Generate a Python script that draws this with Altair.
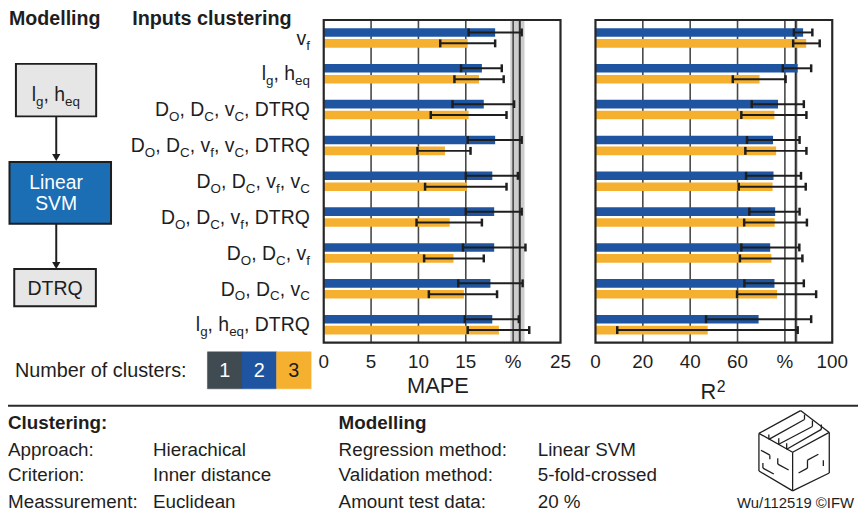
import re
import pandas as pd
import altair as alt

FONT = "Liberation Sans"
INK = "#1e1e1e"
BLUE = "#1f55a0"
ORANGE = "#f6b02f"
SLATE = "#3f4a51"
BOXBLUE = "#1b6db4"
BOXGREY = "#e6e6e6"

# ---------------- data ----------------
CATEGORIES = ["v_f", "l_g, h_eq", "D_O, D_C, v_C, DTRQ", "D_O, D_C, v_f, v_C, DTRQ",
              "D_O, D_C, v_f, v_C", "D_O, D_C, v_f, DTRQ", "D_O, D_C, v_f",
              "D_O, D_C, v_C", "l_g, h_eq, DTRQ"]
CLUSTERS = ["1", "2", "3"]

MAPE_2 = [18.1, 16.7, 16.9, 18.1, 17.8, 18.0, 18.0, 17.6, 17.8]
MAPE_2_LO = [15.3, 14.5, 13.6, 15.2, 15.0, 15.0, 14.7, 14.2, 14.9]
MAPE_2_HI = [20.9, 18.8, 20.1, 20.9, 20.5, 20.9, 21.3, 21.0, 20.6]
MAPE_3 = [15.2, 16.4, 15.3, 12.8, 15.1, 13.3, 13.7, 14.8, 18.5]
MAPE_3_LO = [12.3, 13.8, 11.3, 9.9, 10.7, 9.8, 10.6, 11.1, 15.2]
MAPE_3_HI = [18.1, 19.0, 19.3, 15.5, 19.3, 16.7, 16.9, 18.3, 21.7]

R2_2 = [87.7, 85.4, 77.1, 75.0, 75.2, 75.9, 73.8, 75.6, 68.9]
R2_2_LO = [83.8, 79.1, 66.0, 64.0, 63.6, 65.0, 61.6, 62.9, 46.7]
R2_2_HI = [91.6, 91.1, 88.0, 86.2, 86.8, 86.2, 86.1, 88.0, 91.1]
R2_3 = [89.0, 69.3, 75.6, 76.3, 74.8, 75.7, 74.3, 76.7, 47.4]
R2_3_LO = [83.5, 58.0, 61.6, 63.3, 60.5, 62.8, 61.0, 59.8, 9.2]
R2_3_HI = [94.7, 80.3, 89.1, 89.1, 88.8, 89.3, 87.4, 93.2, 85.4]

# single-model (1 cluster) reference value with its spread
REF_MAPE = 20.7
REF_MAPE_BAND = [19.7, 21.2]
REF_R2 = 84.6
REF_R2_BAND = [84.1, 85.5]

MAPE_TICKS = [0, 5, 10, 15, 20, 25]
MAPE_TICK_LABELS = ["0", "5", "10", "15", "%", "25"]
R2_TICKS = [0, 20, 40, 60, 80, 100]
R2_TICK_LABELS = ["0", "20", "40", "60", "%", "100"]

# ---------------- layout helpers ----------------
def P(v):  # page pixel -> chart pixel (8px body margin)
    return v - 8

MAPE_RANGE = [P(326.7), P(565.7)]
R2_RANGE = [P(601.0), P(840.0)]
Y0, Y1 = P(17.7), P(343.3)

mape_scale = alt.Scale(domain=[0, 25], range=MAPE_RANGE, nice=False, zero=False)
r2_scale = alt.Scale(domain=[0, 100], range=R2_RANGE, nice=False, zero=False)
y_scale = alt.Scale(domain=CATEGORIES, range=[Y0, Y1], paddingInner=0, paddingOuter=0)
yoff_scale = alt.Scale(domain=["2", "3"], paddingInner=0.21, paddingOuter=0.75)
color_scale = alt.Scale(domain=CLUSTERS, range=[SLATE, BLUE, ORANGE])
CLUSTER_COLORS = dict(zip(CLUSTERS, [SLATE, BLUE, ORANGE]))

dummy = alt.Data(values=[{"d": 0}])

WIDTHS = {" ": 278, ",": 278, "D": 722, "T": 611, "R": 722, "Q": 778, "O": 778,
          "C": 722, "v": 500, "l": 222, "h": 556, "e": 556, "q": 556, "f": 278,
          "g": 556, "o": 556, "c": 500}

LAB_FS, SUB_FS = 19.6, 13.5


def tw(s, fs):
    return sum(WIDTHS.get(ch, 556) for ch in s) * fs / 1000.0


def rich_rows(label, anchor, align, fs_main, fs_sub, **extra):
    parts = re.findall(r"_([A-Za-z]+)|([^_]+)", label)
    segs = []
    for sub, main in parts:
        if sub:
            segs.append((sub, True, tw(sub, fs_sub)))
        else:
            segs.append((main, False, tw(main, fs_main)))
    total = sum(w for _, _, w in segs)
    if align == "right":
        x = anchor - total
    elif align == "center":
        x = anchor - total / 2
    else:
        x = anchor
    rows = []
    for t, sub, w in segs:
        r = dict(seg=t, sub=sub, px=x)
        r.update(extra)
        rows.append(r)
        x += w
    return rows


def text(s, x, y, size, weight="normal", align="left", color=INK):
    return alt.Chart(dummy).mark_text(
        text=s, font=FONT, fontSize=size, fontWeight=weight, align=align,
        baseline="alphabetic", color=color
    ).encode(x=alt.value(P(x)), y=alt.value(P(y)))


def box(x1, y1, x2, y2, fill, stroke=INK, sw=2):
    return alt.Chart(dummy).mark_rect(fill=fill, stroke=stroke, strokeWidth=sw).encode(
        x=alt.value(P(x1)), x2=alt.value(P(x2)), y=alt.value(P(y1)), y2=alt.value(P(y2))
    )


def hrule(x1, x2, y, color=INK, sw=2):
    return alt.Chart(dummy).mark_rule(color=color, strokeWidth=sw).encode(
        x=alt.value(P(x1)), x2=alt.value(P(x2)), y=alt.value(P(y))
    )


def vrule(x, y1, y2, color=INK, sw=2):
    return alt.Chart(dummy).mark_rule(color=color, strokeWidth=sw).encode(
        x=alt.value(P(x)), y=alt.value(P(y1)), y2=alt.value(P(y2))
    )


def arrow_head(x, y):
    return alt.Chart(dummy).mark_point(shape="triangle-down", filled=True, size=70,
                                       color=INK, opacity=1).encode(
        x=alt.value(P(x)), y=alt.value(P(y)))


def rich_fixed(label, anchor, y, align, fs_main=LAB_FS, fs_sub=SUB_FS, color=INK):
    rows = pd.DataFrame(rich_rows(label, P(anchor), align, fs_main, fs_sub))
    out = []
    for sub, fs, dy in [(False, fs_main, 0), (True, fs_sub, 5)]:
        d = rows[rows["sub"] == sub]
        if len(d) == 0:
            continue
        out.append(alt.Chart(d).mark_text(font=FONT, fontSize=fs, align="left",
                                          baseline="alphabetic", color=color).encode(
            x=alt.X("px:Q", scale=None), y=alt.value(P(y) + dy), text="seg:N"))
    return out


# ---------------- tables ----------------
rows = []
for i, c in enumerate(CATEGORIES):
    rows.append(dict(cat=c, cluster="2", mape=MAPE_2[i], mape_lo=MAPE_2_LO[i], mape_hi=MAPE_2_HI[i],
                     r2=R2_2[i], r2_lo=R2_2_LO[i], r2_hi=R2_2_HI[i]))
    rows.append(dict(cat=c, cluster="3", mape=MAPE_3[i], mape_lo=MAPE_3_LO[i], mape_hi=MAPE_3_HI[i],
                     r2=R2_3[i], r2_lo=R2_3_LO[i], r2_hi=R2_3_HI[i]))
df = pd.DataFrame(rows)

Y = alt.Y("cat:N", scale=y_scale, axis=None)
YO = alt.YOffset("cluster:N", scale=yoff_scale)
COLOR = alt.Color("cluster:N", scale=color_scale, legend=None)


def panel(key, scale, ticks, tick_labels, ref, band, xrange):
    L = []
    ref_df = pd.DataFrame({"ref": [ref], "blo": [band[0]], "bhi": [band[1]]})
    L.append(alt.Chart(ref_df).mark_rect(color="#cdcdcd").encode(
        x=alt.X("blo:Q", scale=scale, axis=None), x2="bhi:Q",
        y=alt.value(Y0), y2=alt.value(Y1)))
    grid_df = pd.DataFrame({"v": ticks[1:-1]})
    L.append(alt.Chart(grid_df).mark_rule(color="#474747", strokeWidth=1.6).encode(
        x=alt.X("v:Q", scale=scale, axis=None), y=alt.value(Y0), y2=alt.value(Y1)))
    L.append(alt.Chart(ref_df).mark_rule(color="#2e2e2e", strokeWidth=2).encode(
        x=alt.X("ref:Q", scale=scale, axis=None), y=alt.value(Y0), y2=alt.value(Y1)))
    L.append(alt.Chart(df).mark_bar().encode(
        x=alt.X(f"{key}:Q", scale=scale, axis=None), y=Y, yOffset=YO, color=COLOR))
    L.append(alt.Chart(df).mark_rule(color=INK, strokeWidth=2).encode(
        x=alt.X(f"{key}_lo:Q", scale=scale, axis=None), x2=f"{key}_hi:Q", y=Y, yOffset=YO))
    for end in ("lo", "hi"):
        L.append(alt.Chart(df).mark_tick(color=INK, thickness=2.5, size=8, opacity=1).encode(
            x=alt.X(f"{key}_{end}:Q", scale=scale, axis=None), y=Y, yOffset=YO))
    L.append(alt.Chart(dummy).mark_rect(fillOpacity=0, stroke="#262626", strokeWidth=2.2).encode(
        x=alt.value(xrange[0]), x2=alt.value(xrange[1]), y=alt.value(Y0), y2=alt.value(Y1)))
    tick_df = pd.DataFrame({"v": ticks, "lab": tick_labels})
    L.append(alt.Chart(tick_df).mark_text(font=FONT, fontSize=19, baseline="alphabetic",
                                          align="center", color=INK).encode(
        x=alt.X("v:Q", scale=scale, axis=None), y=alt.value(P(368.5)), text="lab:N"))
    return L


layers = []

# headers
layers.append(text("Modelling", 9, 22.7, 19.8, weight="bold"))
layers.append(text("Inputs clustering", 133.3, 22.7, 20, weight="bold"))

# flow chart
layers.append(box(16, 62, 97, 115, BOXGREY))
layers += rich_fixed("l_g, h_eq", 56.3, 99.3, "center")
layers.append(vrule(56.7, 115, 153))
layers.append(arrow_head(56.7, 156.5))
layers.append(box(9.5, 161, 112, 223.3, BOXBLUE))
layers.append(text("Linear", 56.5, 188.3, 19.5, align="center", color="white"))
layers.append(text("SVM", 56.5, 210, 19.5, align="center", color="white"))
layers.append(vrule(56.7, 223.3, 262))
layers.append(arrow_head(56.7, 265.5))
layers.append(box(14.3, 269, 96.7, 306.7, BOXGREY))
layers.append(text("DTRQ", 55.5, 295, 19.7, align="center"))

# category labels with subscripts
lab_rows = []
for c in CATEGORIES:
    lab_rows += rich_rows(c, P(312.7), "right", LAB_FS, SUB_FS, cat=c)
lab_df = pd.DataFrame(lab_rows)
for sub, fs, dy in [(False, LAB_FS, 6.8), (True, SUB_FS, 11.8)]:
    layers.append(alt.Chart(lab_df[lab_df["sub"] == sub]).mark_text(
        font=FONT, fontSize=fs, align="left", baseline="alphabetic", dy=dy, color=INK).encode(
        x=alt.X("px:Q", scale=None), y=Y, text="seg:N"))

# panels
layers += panel("mape", mape_scale, MAPE_TICKS, MAPE_TICK_LABELS, REF_MAPE, REF_MAPE_BAND, MAPE_RANGE)
layers += panel("r2", r2_scale, R2_TICKS, R2_TICK_LABELS, REF_R2, REF_R2_BAND, R2_RANGE)
layers.append(text("MAPE", 442, 394, 22, align="center"))
layers.append(text("R", 723, 400, 22, align="right"))
layers.append(text("2", 723.5, 393, 16, align="left"))

# legend
layers.append(text("Number of clusters:", 15, 378.3, 20))
LEG_X0, LEG_W = 209.3, 34.9
for i, cl in enumerate(CLUSTERS):
    x1 = LEG_X0 + i * LEG_W
    col = CLUSTER_COLORS[cl]
    layers.append(box(x1, 352.7, x1 + LEG_W, 390, col, stroke=col, sw=0.5))
    layers.append(text(cl, x1 + LEG_W / 2, 378, 20, align="center",
                       color=INK if cl == "3" else "white"))

# separator and footer
FS_F = 19
layers.append(hrule(0, 866, 407, color="#2b2b2b", sw=2))
layers.append(text("Clustering:", 8, 431, FS_F, weight="bold"))
layers.append(text("Approach:", 8, 458.3, FS_F))
layers.append(text("Criterion:", 8, 483.3, FS_F))
layers.append(text("Meassurement:", 8, 510, FS_F))
layers.append(text("Hierachical", 154.3, 458.3, FS_F))
layers.append(text("Inner distance", 154.3, 483.3, FS_F))
layers.append(text("Euclidean", 154.3, 510, FS_F))
layers.append(text("Modelling", 341.7, 431, FS_F, weight="bold"))
layers.append(text("Regression method:", 341.7, 458.3, FS_F))
layers.append(text("Validation method:", 341.7, 483.3, FS_F))
layers.append(text("Amount test data:", 341.7, 510, FS_F))
layers.append(text("Linear SVM", 542.7, 458.3, FS_F))
layers.append(text("5-fold-crossed", 542.7, 483.3, FS_F))
layers.append(text("20 %", 542.7, 510, FS_F))
layers.append(text("Wu/112519 ©IFW", 862, 510, 15, align="right"))

# logo (decorative cube drawing)
LOGO = [
    (808, 412, 837, 434), (837, 434, 837, 475), (837, 475, 800, 493), (800, 493, 766, 473),
    (766, 473, 766, 435), (766, 435, 808, 412), (766, 435, 800, 454), (800, 454, 837, 434),
    (800, 454, 800, 493),
    (776, 441, 812, 421), (786, 446, 820, 428), (794, 451, 829, 431),
    (776, 441, 776, 436), (786, 446, 786, 440), (794, 451, 794, 445),
    (812, 421, 812, 416), (820, 428, 820, 422), (829, 431, 829, 426),
    (768, 452, 777, 457), (777, 457, 777, 461), (770, 465, 770, 470), (770, 470, 781, 476),
    (785, 460, 785, 466), (785, 466, 796, 472),
    (826, 456, 815, 462), (815, 462, 815, 470), (815, 470, 806, 475), (831, 462, 831, 468),
]
logo_df = pd.DataFrame([dict(x1=P(a), y1=P(b), x2=P(c), y2=P(d)) for a, b, c, d in LOGO])
layers.append(alt.Chart(logo_df).mark_rule(color=INK, strokeWidth=1.3).encode(
    x=alt.X("x1:Q", scale=None), y=alt.Y("y1:Q", scale=None),
    x2="x2:Q", y2="y2:Q"))

chart = alt.layer(*layers).resolve_scale(x="independent").properties(
    width=858, height=509, autosize=alt.AutoSizeParams(type="none"), padding=0,
    background="white"
).configure_view(strokeWidth=0)

chart.save("out.html", embed_options={"renderer": "svg", "actions": False})
